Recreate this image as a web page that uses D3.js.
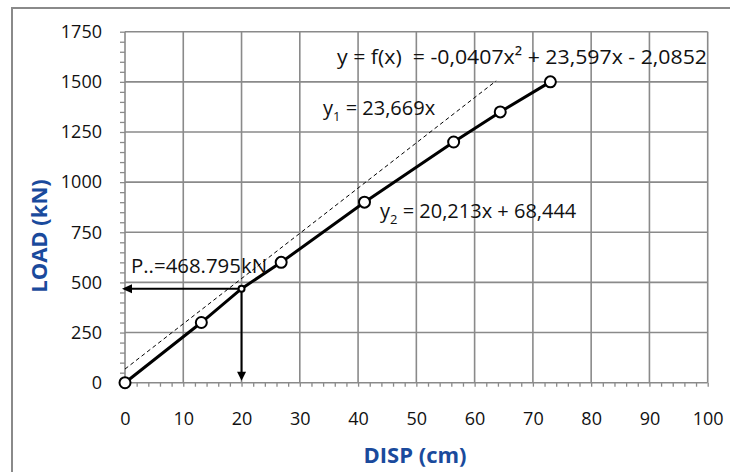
<!DOCTYPE html>
<html>
<head>
<meta charset="utf-8">
<script src="https://cdn.jsdelivr.net/npm/d3@7"></script>
<style>
  body { margin: 0; background: #fff; }
  text { font-family: "Open Sans", sans-serif; }
</style>
</head>
<body>
<svg id="chart"></svg>
<script>
// measured points (DISP cm, LOAD kN)
var disp = [0, 13.1, 20, 26.8, 41.1, 56.4, 64.4, 73];
var load = [0, 300, 468.795, 600, 900, 1200, 1350, 1500];

// dashed reference line, end points
var refX = [0, 63.7];
var refY = [68, 1505];

// the marked point P
var pX = 20;
var pY = 468.795;

var xTicks = [0, 10, 20, 30, 40, 50, 60, 70, 80, 90, 100];
var yTicks = [0, 250, 500, 750, 1000, 1250, 1500, 1750];

var w = 730;
var h = 472;
var grey = "#8a8a8a";
var blue = "#1a4a9c";

var svg = d3.select("#chart")
  .attr("width", w)
  .attr("height", h);

svg.append("rect").attr("width", w).attr("height", h).attr("fill", "#fff");

// outer frame (right and bottom run off the picture)
svg.append("rect")
  .attr("x", 12).attr("y", 8)
  .attr("width", 740).attr("height", 480)
  .attr("fill", "none")
  .attr("stroke", grey)
  .attr("stroke-width", 2);

var xScale = d3.scaleLinear().domain([0, 100]).range([125, 707.7]);
var yScale = d3.scaleLinear().domain([0, 1750]).range([382.7, 31.7]);

// grid
svg.append("g")
  .selectAll("line.v")
  .data(xTicks)
  .enter().append("line")
  .attr("x1", function(d){ return xScale(d); })
  .attr("x2", function(d){ return xScale(d); })
  .attr("y1", yScale(0))
  .attr("y2", yScale(1750))
  .attr("stroke", grey)
  .attr("stroke-width", 1.6);

svg.append("g")
  .selectAll("line.h")
  .data(yTicks)
  .enter().append("line")
  .attr("x1", xScale(0))
  .attr("x2", xScale(100))
  .attr("y1", function(d){ return yScale(d); })
  .attr("y2", function(d){ return yScale(d); })
  .attr("stroke", grey)
  .attr("stroke-width", 1.6);

// minor ticks
var xAxisMinor = d3.axisBottom(xScale)
  .tickValues(d3.range(0, 101, 2))
  .tickSize(4)
  .tickFormat("");
svg.append("g")
  .attr("transform", "translate(0," + yScale(0) + ")")
  .call(xAxisMinor)
  .call(function(g){
    g.select(".domain").remove();
    g.selectAll("line").attr("stroke", grey).attr("stroke-width", 1.3);
  });

var yAxisMinor = d3.axisLeft(yScale)
  .tickValues(d3.range(0, 1751, 50))
  .tickSize(5)
  .tickFormat("");
svg.append("g")
  .attr("transform", "translate(" + xScale(0) + ",0)")
  .call(yAxisMinor)
  .call(function(g){
    g.select(".domain").remove();
    g.selectAll("line").attr("stroke", grey).attr("stroke-width", 1.3);
  });

// tick labels
var xAxis = d3.axisBottom(xScale).tickValues(xTicks).tickSize(0).tickPadding(30)
  .tickFormat(d3.format("d"));
svg.append("g")
  .attr("transform", "translate(0," + yScale(0) + ")")
  .call(xAxis)
  .call(function(g){
    g.select(".domain").remove();
    g.selectAll("text")
      .attr("font-family", "Open Sans, sans-serif")
      .attr("font-size", 18)
      .attr("fill", "#111");
  });

var yAxis = d3.axisLeft(yScale).tickValues(yTicks).tickSize(0).tickPadding(23)
  .tickFormat(d3.format("d"));
svg.append("g")
  .attr("transform", "translate(" + xScale(0) + ",0)")
  .call(yAxis)
  .call(function(g){
    g.select(".domain").remove();
    g.selectAll("text")
      .attr("font-family", "Open Sans, sans-serif")
      .attr("font-size", 18)
      .attr("fill", "#111");
  });

// axis titles
svg.append("text")
  .attr("x", 415)
  .attr("y", 463)
  .attr("text-anchor", "middle")
  .attr("font-size", 22)
  .attr("font-weight", "bold")
  .attr("fill", blue)
  .text("DISP (cm)");

svg.append("text")
  .attr("transform", "translate(47,236) rotate(-90)")
  .attr("text-anchor", "middle")
  .attr("font-size", 22)
  .attr("font-weight", "bold")
  .attr("fill", blue)
  .text("LOAD (kN)");

// dashed reference line
svg.append("line")
  .attr("x1", xScale(refX[0])).attr("y1", yScale(refY[0]))
  .attr("x2", xScale(refX[1])).attr("y2", yScale(refY[1]))
  .attr("stroke", "#000")
  .attr("stroke-width", 1)
  .attr("stroke-dasharray", "4,3");

// load-displacement curve
var pts = disp.map(function(d, i){ return [d, load[i]]; });
var line = d3.line()
  .x(function(d){ return xScale(d[0]); })
  .y(function(d){ return yScale(d[1]); });

svg.append("path")
  .datum(pts)
  .attr("d", line)
  .attr("fill", "none")
  .attr("stroke", "#000")
  .attr("stroke-width", 3);

// arrows from P to the axes
var px = xScale(pX), py = yScale(pY);
svg.append("line")
  .attr("x1", px).attr("y1", py)
  .attr("x2", xScale(0) + 4).attr("y2", py)
  .attr("stroke", "#000").attr("stroke-width", 2);
svg.append("path")
  .attr("d", "M" + (xScale(0) - 3) + "," + py +
             "L" + (xScale(0) + 7) + "," + (py - 4.5) +
             "L" + (xScale(0) + 7) + "," + (py + 4.5) + "Z")
  .attr("fill", "#000");

svg.append("line")
  .attr("x1", px).attr("y1", py)
  .attr("x2", px).attr("y2", yScale(0) - 6)
  .attr("stroke", "#000").attr("stroke-width", 2);
svg.append("path")
  .attr("d", "M" + px + "," + (yScale(0) - 2) +
             "L" + (px - 4.5) + "," + (yScale(0) - 11) +
             "L" + (px + 4.5) + "," + (yScale(0) - 11) + "Z")
  .attr("fill", "#000");

// markers
svg.append("g")
  .selectAll("circle")
  .data(pts)
  .enter().append("circle")
  .attr("cx", function(d){ return xScale(d[0]); })
  .attr("cy", function(d){ return yScale(d[1]); })
  .attr("r", function(d){ return d[0] === pX ? 3 : 5.5; })
  .attr("fill", "#fff")
  .attr("stroke", "#000")
  .attr("stroke-width", 2);

// equations
svg.append("text")
  .attr("x", 337).attr("y", 64)
  .attr("font-size", 20)
  .attr("fill", "#111")
  .attr("textLength", 370)
  .attr("lengthAdjust", "spacingAndGlyphs")
  .text("y = f(x)\u00a0\u00a0= -0,0407x² + 23,597x - 2,0852");

var t1 = svg.append("text")
  .attr("x", 323).attr("y", 115)
  .attr("font-size", 20)
  .attr("fill", "#111");
t1.append("tspan").text("y");
t1.append("tspan").attr("font-size", 13).attr("dy", 6).text("1");
t1.append("tspan").attr("dy", -6).text(" = 23,669x");

var t2 = svg.append("text")
  .attr("x", 380).attr("y", 218)
  .attr("font-size", 20)
  .attr("fill", "#111");
t2.append("tspan").text("y");
t2.append("tspan").attr("font-size", 13).attr("dy", 6).text("2");
t2.append("tspan").attr("dy", -6).text(" = 20,213x + 68,444");

svg.append("text")
  .attr("x", 131).attr("y", 273)
  .attr("font-size", 20)
  .attr("fill", "#111")
  .attr("textLength", 136)
  .attr("lengthAdjust", "spacingAndGlyphs")
  .text("P..=468.795kN");
</script>
</body>
</html>
